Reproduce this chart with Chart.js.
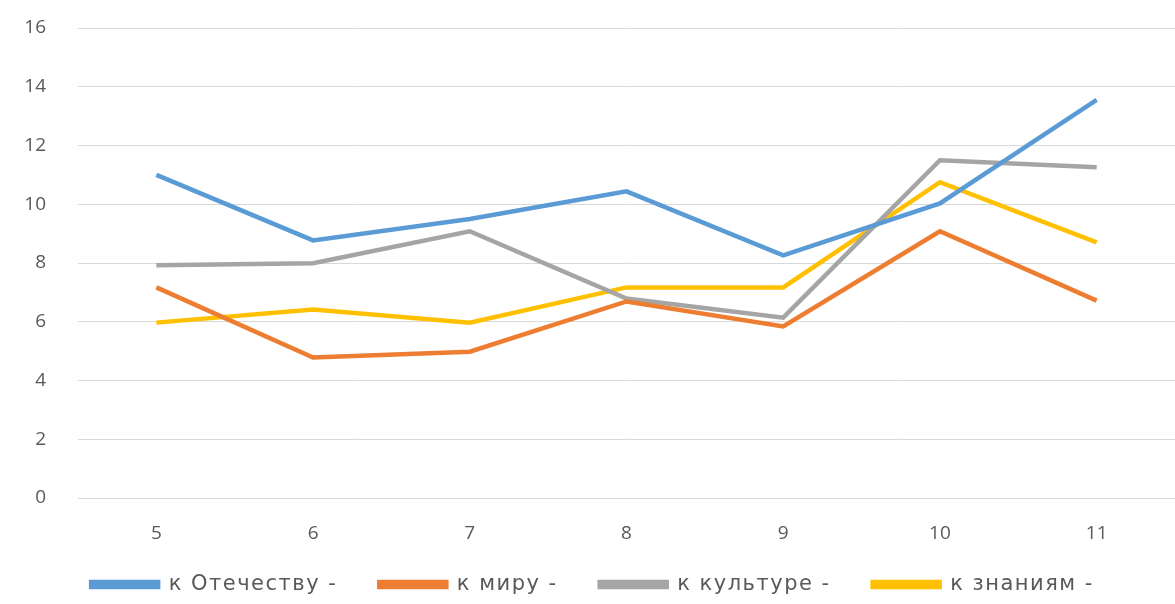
<!DOCTYPE html>
<html>
<head>
<meta charset="utf-8">
<script src="https://cdn.jsdelivr.net/npm/chart.js@4.4.1/dist/chart.umd.min.js"></script>
<style>
  html, body { margin: 0; padding: 0; background: #fff; }
  #wrap { width: 1175px; height: 604px; position: relative; }
</style>
</head>
<body>
<div id="wrap"><canvas id="myChart"></canvas></div>
<script>
// classes on the x axis
const grades = ['5', '6', '7', '8', '9', '10', '11']

// series values
const fatherland = [11.0, 8.77, 9.5, 10.44, 8.26, 10.03, 13.55]
const world = [7.17, 4.78, 4.98, 6.69, 5.84, 9.08, 6.72]
const culture = [7.92, 7.99, 9.08, 6.79, 6.14, 11.5, 11.26]
const knowledge = [5.97, 6.42, 5.97, 7.17, 7.17, 10.75, 8.7]

const seriesNames = ['к Отечеству -', 'к миру -', 'к культуре -', 'к знаниям -']
const seriesColors = ['#5B9BD5', '#ED7D31', '#A5A5A5', '#FFC000']

const yTicks = [0, 2, 4, 6, 8, 10, 12, 14, 16]

const textColor = '#595959'
const gridColor = '#d9d9d9'
const tickFont = { family: 'Open Sans', size: 19 }

const makeSet = (i, values) => ({
  label: seriesNames[i],
  data: values,
  borderColor: seriesColors[i],
  backgroundColor: seriesColors[i],
  borderWidth: 4.5,
  pointRadius: 0,
  pointHoverRadius: 0,
  tension: 0,
  fill: false
})

// legend items sit wide apart, but the legend box itself stays short:
// draw it lifted up inside its own box, with a bit of letter spacing
const legendTweak = {
  id: 'legendTweak',
  beforeLayout (chart) {
    const lg = chart.legend
    if (!lg || lg._tweaked) return
    const fit = lg.fit
    const draw = lg._draw
    lg.fit = function () {
      this.ctx.save()
      this.ctx.letterSpacing = '1.5px'
      fit.call(this)
      this.ctx.restore()
    }
    lg._draw = function () {
      this.ctx.save()
      this.ctx.letterSpacing = '1.5px'
      this.ctx.translate(5, -14)
      draw.call(this)
      this.ctx.restore()
    }
    lg._tweaked = true
  }
}

const ctx = document.getElementById('myChart')
// eslint-disable-next-line no-unused-vars
const myChart = new Chart(ctx, {
  type: 'line',
  data: {
    labels: grades,
    datasets: [
      makeSet(0, fatherland),
      makeSet(1, world),
      makeSet(2, culture),
      makeSet(3, knowledge)
    ]
  },
  plugins: [legendTweak],
  options: {
    responsive: true,
    maintainAspectRatio: false,
    animation: false,
    layout: {
      padding: { top: 28, right: 0, bottom: 0, left: 0 }
    },
    scales: {
      x: {
        offset: true,
        grid: { display: false, drawTicks: false },
        border: { display: true, color: gridColor, width: 1 },
        ticks: {
          padding: 24,
          color: textColor,
          font: tickFont
        },
        afterFit: (scale) => { scale.height = 48 }
      },
      y: {
        min: 0,
        max: 16,
        afterBuildTicks: (scale) => { scale.ticks = yTicks.map(v => ({ value: v })) },
        grid: { color: gridColor, lineWidth: 1, drawTicks: false },
        border: { display: false },
        ticks: {
          padding: 32,
          color: textColor,
          font: tickFont
        },
        afterFit: (scale) => {
          scale.width = 78
          scale.paddingTop = 0
          scale.paddingBottom = 0
        }
      }
    },
    plugins: {
      legend: {
        position: 'bottom',
        maxHeight: 58,
        labels: {
          boxWidth: 67,
          boxHeight: 5,
          padding: 42,
          color: textColor,
          font: { family: 'DejaVu Sans', size: 21 }
        }
      },
      tooltip: { enabled: false }
    }
  }
})
</script>
</body>
</html>
